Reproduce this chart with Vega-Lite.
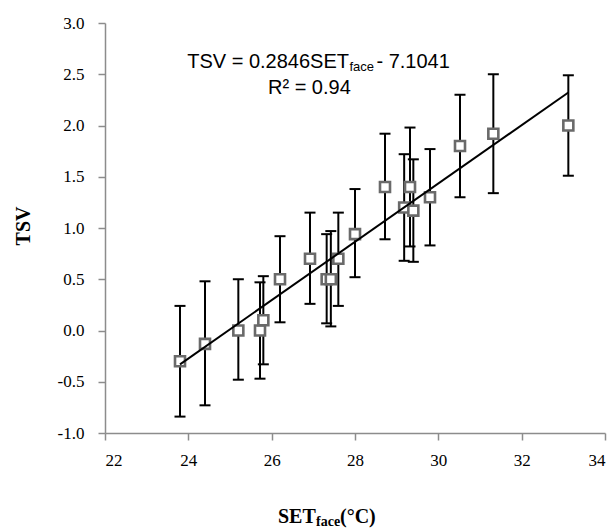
{
  "$schema": "https://vega.github.io/schema/vega-lite/v6.json",
  "width": 500,
  "height": 410,
  "autosize": {"type": "none"},
  "padding": {"left": 105, "top": 23, "right": 10, "bottom": 96},
  "background": "white",
  "config": {
    "view": {"stroke": null},
    "style": {"guide-label": {"font": "Liberation Serif", "fontSize": 17, "fill": "black"}},
    "axis": {"labelFont": "Liberation Serif", "labelFontSize": 17}
  },
  "datasets": {
    "pts": [
      {"set": 23.8, "tsv": -0.30, "lo": -0.84, "hi": 0.24},
      {"set": 24.4, "tsv": -0.13, "lo": -0.73, "hi": 0.48},
      {"set": 25.2, "tsv": 0.00, "lo": -0.48, "hi": 0.50},
      {"set": 25.72, "tsv": 0.00, "lo": -0.47, "hi": 0.47},
      {"set": 25.8, "tsv": 0.10, "lo": -0.33, "hi": 0.53},
      {"set": 26.2, "tsv": 0.50, "lo": 0.08, "hi": 0.92},
      {"set": 26.92, "tsv": 0.70, "lo": 0.26, "hi": 1.15},
      {"set": 27.32, "tsv": 0.50, "lo": 0.07, "hi": 0.94},
      {"set": 27.42, "tsv": 0.50, "lo": 0.04, "hi": 0.97},
      {"set": 27.6, "tsv": 0.70, "lo": 0.24, "hi": 1.15},
      {"set": 28.0, "tsv": 0.94, "lo": 0.52, "hi": 1.38},
      {"set": 28.72, "tsv": 1.40, "lo": 0.89, "hi": 1.92},
      {"set": 29.18, "tsv": 1.20, "lo": 0.68, "hi": 1.72},
      {"set": 29.32, "tsv": 1.40, "lo": 0.82, "hi": 1.98},
      {"set": 29.4, "tsv": 1.17, "lo": 0.67, "hi": 1.67},
      {"set": 29.8, "tsv": 1.30, "lo": 0.83, "hi": 1.77},
      {"set": 30.52, "tsv": 1.80, "lo": 1.30, "hi": 2.30},
      {"set": 31.32, "tsv": 1.92, "lo": 1.34, "hi": 2.50},
      {"set": 33.12, "tsv": 2.00, "lo": 1.51, "hi": 2.49}
    ],
    "trend": [
      {"set": 23.8, "tsv": -0.33},
      {"set": 33.12, "tsv": 2.322}
    ]
  },
  "layer": [
    {
      "data": {"name": "pts"},
      "mark": {"type": "rule", "color": "black", "strokeWidth": 2},
      "encoding": {
        "x": {"field": "set", "type": "quantitative", "title": null,
              "scale": {"domain": [22, 34], "nice": false, "zero": false},
              "axis": {"values": [22, 24, 26, 28, 30, 32, 34], "labelPadding": 12,
                       "grid": false, "labelFont": "Liberation Serif", "labelFontSize": 17, "labelColor": "black",
                       "domainColor": "#8c8c8c", "tickColor": "#8c8c8c", "domainWidth": 1.5, "tickWidth": 1.5, "tickSize": 7}},
        "y": {"field": "hi", "type": "quantitative", "title": null,
              "scale": {"domain": [-1, 3], "nice": false, "zero": false},
              "axis": {"values": [-1, -0.5, 0, 0.5, 1, 1.5, 2, 2.5, 3],
                       "labelExpr": "datum.value < 0 ? '-' + format(-datum.value, '.1f') : format(datum.value, '.1f')",
                       "labelPadding": 14,
                       "grid": false, "labelFont": "Liberation Serif", "labelFontSize": 17, "labelColor": "black",
                       "domainColor": "#8c8c8c", "tickColor": "#8c8c8c", "domainWidth": 1.5, "tickWidth": 1.5, "tickSize": 7}},
        "y2": {"field": "lo"}
      }
    },
    {
      "data": {"name": "pts"},
      "mark": {"type": "tick", "orient": "horizontal", "color": "black", "size": 11, "thickness": 2, "opacity": 1},
      "encoding": {
        "x": {"field": "set", "type": "quantitative", "title": null},
        "y": {"field": "hi", "type": "quantitative", "title": null}
      }
    },
    {
      "data": {"name": "pts"},
      "mark": {"type": "tick", "orient": "horizontal", "color": "black", "size": 11, "thickness": 2, "opacity": 1},
      "encoding": {
        "x": {"field": "set", "type": "quantitative", "title": null},
        "y": {"field": "lo", "type": "quantitative", "title": null}
      }
    },
    {
      "data": {"name": "pts"},
      "mark": {"type": "point", "shape": "square", "filled": false, "fill": "white", "fillOpacity": 1, "stroke": "#6a6a6a", "strokeWidth": 2.6, "size": 100, "opacity": 1},
      "encoding": {
        "x": {"field": "set", "type": "quantitative", "title": null},
        "y": {"field": "tsv", "type": "quantitative", "title": null}
      }
    },
    {
      "data": {"name": "trend"},
      "mark": {"type": "line", "color": "black", "strokeWidth": 2},
      "encoding": {
        "x": {"field": "set", "type": "quantitative", "title": null},
        "y": {"field": "tsv", "type": "quantitative", "title": null}
      }
    },
    {
      "data": {"values": [{"set": 27.856, "tsv": 2.561, "label": "TSV = 0.2846SET"}]},
      "mark": {"type": "text", "font": "Liberation Sans", "fontSize": 20, "align": "right", "baseline": "alphabetic", "color": "black"},
      "encoding": {
        "x": {"field": "set", "type": "quantitative", "title": null},
        "y": {"field": "tsv", "type": "quantitative", "title": null},
        "text": {"field": "label"}
      }
    },
    {
      "data": {"values": [{"set": 27.868, "tsv": 2.527, "label": "face"}]},
      "mark": {"type": "text", "font": "Liberation Sans", "fontSize": 13, "align": "left", "baseline": "alphabetic", "color": "black"},
      "encoding": {
        "x": {"field": "set", "type": "quantitative", "title": null},
        "y": {"field": "tsv", "type": "quantitative", "title": null},
        "text": {"field": "label"}
      }
    },
    {
      "data": {"values": [{"set": 28.514, "tsv": 2.561, "label": "- 7.1041"}]},
      "mark": {"type": "text", "font": "Liberation Sans", "fontSize": 20, "align": "left", "baseline": "alphabetic", "color": "black"},
      "encoding": {
        "x": {"field": "set", "type": "quantitative", "title": null},
        "y": {"field": "tsv", "type": "quantitative", "title": null},
        "text": {"field": "label"}
      }
    },
    {
      "data": {"values": [{"set": 26.905, "tsv": 2.307, "label": "R² = 0.94"}]},
      "mark": {"type": "text", "font": "Liberation Sans", "fontSize": 20, "align": "center", "baseline": "alphabetic", "color": "black"},
      "encoding": {
        "x": {"field": "set", "type": "quantitative", "title": null},
        "y": {"field": "tsv", "type": "quantitative", "title": null},
        "text": {"field": "label"}
      }
    },
    {
      "data": {"values": [{"set": 26.152, "tsv": -1.878, "label": "SET"}, {"set": 27.64, "tsv": -1.878, "label": "(°C)"}]},
      "mark": {"type": "text", "font": "Liberation Serif", "fontSize": 20, "fontWeight": "bold", "align": "left", "baseline": "alphabetic", "color": "black"},
      "encoding": {
        "x": {"field": "set", "type": "quantitative", "title": null},
        "y": {"field": "tsv", "type": "quantitative", "title": null},
        "text": {"field": "label"}
      }
    },
    {
      "data": {"values": [{"set": 27.064, "tsv": -1.912, "label": "face"}]},
      "mark": {"type": "text", "font": "Liberation Serif", "fontSize": 14, "fontWeight": "bold", "align": "left", "baseline": "alphabetic", "color": "black"},
      "encoding": {
        "x": {"field": "set", "type": "quantitative", "title": null},
        "y": {"field": "tsv", "type": "quantitative", "title": null},
        "text": {"field": "label"}
      }
    },
    {
      "data": {"values": [{"set": 20.056, "tsv": 1.0195, "label": "TSV"}]},
      "mark": {"type": "text", "font": "Liberation Serif", "fontSize": 20, "fontWeight": "bold", "align": "center", "baseline": "middle", "angle": 270, "color": "black"},
      "encoding": {
        "x": {"field": "set", "type": "quantitative", "title": null},
        "y": {"field": "tsv", "type": "quantitative", "title": null},
        "text": {"field": "label"}
      }
    }
  ]
}
